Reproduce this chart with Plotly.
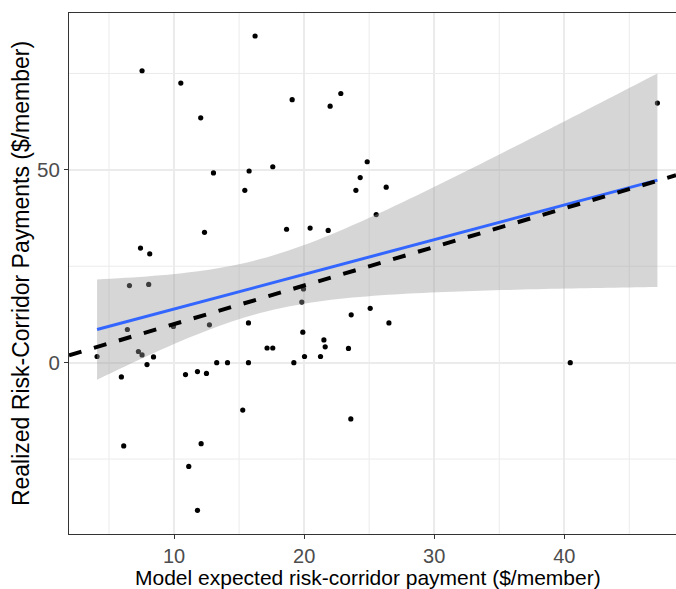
import numpy as np
import plotly.graph_objects as go

# Model expected vs realized risk-corridor payments ($/member)
expected = [
    7.54, 16.23, 10.52, 12.05, 19.08, 22.82, 22.00, 13.03, 15.77, 17.59,
    15.44, 24.85, 24.31, 23.98, 26.31, 25.54, 12.34, 18.65, 20.46, 21.85,
    7.42, 8.13,
    6.57, 8.05, 19.95, 19.82, 25.08, 23.62, 26.52, 15.72, 6.41, 9.95,
    12.72, 19.90, 21.52, 21.62, 23.41, 17.15, 17.59, 7.26, 7.54, 4.08,
    8.42, 7.92, 20.03, 21.26, 13.28, 14.11, 15.72, 19.21, 5.95, 10.88,
    11.80, 12.49, 15.28, 23.59, 6.13, 12.08, 11.13, 11.80,
    47.16, 40.46,
]
realized = [
    75.7, 84.7, 72.5, 63.5, 68.2, 69.8, 66.5, 49.2, 49.7, 50.8,
    44.7, 52.1, 48.0, 44.7, 45.5, 38.4, 33.8, 34.6, 34.9, 34.3,
    29.7, 28.2,
    20.0, 20.3, 19.1, 15.7, 14.1, 12.4, 10.3, 10.3, 8.6, 9.4,
    9.8, 7.9, 5.9, 4.1, 3.7, 3.8, 3.8, 2.9, 2.0, 1.6,
    1.5, -0.5, 1.6, 1.6, 0.0, 0.0, 0.0, 0.0, -3.7, -3.1,
    -2.3, -2.8, -12.3, -14.6, -21.6, -21.0, -26.9, -38.3,
    67.3, 0.0,
]

x_ticks = [10, 20, 30, 40]
y_ticks = [0, 50]
x_title = "Model expected risk-corridor payment ($/member)"
y_title = "Realized Risk-Corridor Payments ($/member)"

# Linear fit with 95% confidence band (as in geom_smooth(method = "lm"))
xa = np.array(expected)
ya = np.array(realized)
n = len(xa)
slope, intercept = np.polyfit(xa, ya, 1)
resid = ya - (intercept + slope * xa)
s = np.sqrt(np.sum(resid ** 2) / (n - 2))
xbar = xa.mean()
sxx = np.sum((xa - xbar) ** 2)
t_crit = 2.0003  # t(0.975, df = 60)
xs = np.linspace(xa.min(), xa.max(), 80)
fit = intercept + slope * xs
se = s * np.sqrt(1.0 / n + (xs - xbar) ** 2 / sxx)
upper = fit + t_crit * se
lower = fit - t_crit * se

x_range = [1.923, 48.59]
y_range = [-44.43, 90.67]

fig = go.Figure()

fig.add_trace(go.Scatter(
    x=expected, y=realized, mode="markers",
    marker=dict(color="black", size=5.2, line=dict(width=0)),
    showlegend=False, hoverinfo="skip",
))

fig.add_trace(go.Scatter(
    x=np.concatenate([xs, xs[::-1]]), y=np.concatenate([upper, lower[::-1]]),
    mode="none", fill="toself", fillcolor="rgba(153,153,153,0.4)",
    showlegend=False, hoverinfo="skip",
))

fig.add_trace(go.Scatter(
    x=xs, y=fit, mode="lines",
    line=dict(color="#3366FF", width=3),
    showlegend=False, hoverinfo="skip",
))

# 45-degree reference line (realized = expected)
fig.add_trace(go.Scatter(
    x=x_range, y=x_range, mode="lines",
    line=dict(color="black", width=4, dash="13px,13px"),
    showlegend=False, hoverinfo="skip",
))

grid_color = "#ebebeb"
minor_x = [5, 15, 25, 35, 45]
minor_y = [-25, 25, 75]
for v in minor_x:
    fig.add_shape(type="line", xref="x", yref="paper", x0=v, x1=v, y0=0, y1=1,
                  line=dict(color=grid_color, width=1), layer="below")
for v in minor_y:
    fig.add_shape(type="line", xref="paper", yref="y", x0=0, x1=1, y0=v, y1=v,
                  line=dict(color=grid_color, width=1), layer="below")

font_family = "Liberation Sans, Arial, sans-serif"

# x-axis title placed as an annotation beneath the panel
fig.add_annotation(
    text=x_title, xref="paper", yref="paper", x=0.4918, y=0,
    xanchor="center", yanchor="top", yshift=-31, borderpad=0,
    showarrow=False,
    font=dict(size=21, color="black", family=font_family),
)

fig.update_layout(
    width=676, height=589,
    margin=dict(l=69, r=0, t=13, b=55),
    paper_bgcolor="white", plot_bgcolor="white",
    font=dict(family=font_family, color="black"),
    xaxis=dict(
        range=x_range, tickvals=x_ticks, ticktext=[str(v) for v in x_ticks],
        showgrid=True, gridcolor=grid_color, gridwidth=1.6,
        zeroline=False, showline=True, linecolor="#333333", linewidth=1.2,
        mirror=True, ticks="outside", ticklen=4, tickcolor="#333333",
        tickwidth=1.2,
        tickfont=dict(size=20, color="#4d4d4d", family=font_family),
    ),
    yaxis=dict(
        range=y_range, tickvals=y_ticks, ticktext=[str(v) for v in y_ticks],
        showgrid=True, gridcolor=grid_color, gridwidth=1.6,
        zeroline=False, showline=True, linecolor="#333333", linewidth=1.2,
        ticks="outside", ticklen=4, tickcolor="#333333", tickwidth=1.2,
        tickfont=dict(size=20.5, color="#4d4d4d", family=font_family),
        title=dict(text=y_title, font=dict(size=23, color="black"), standoff=0),
    ),
)

fig.write_html("out.html")
